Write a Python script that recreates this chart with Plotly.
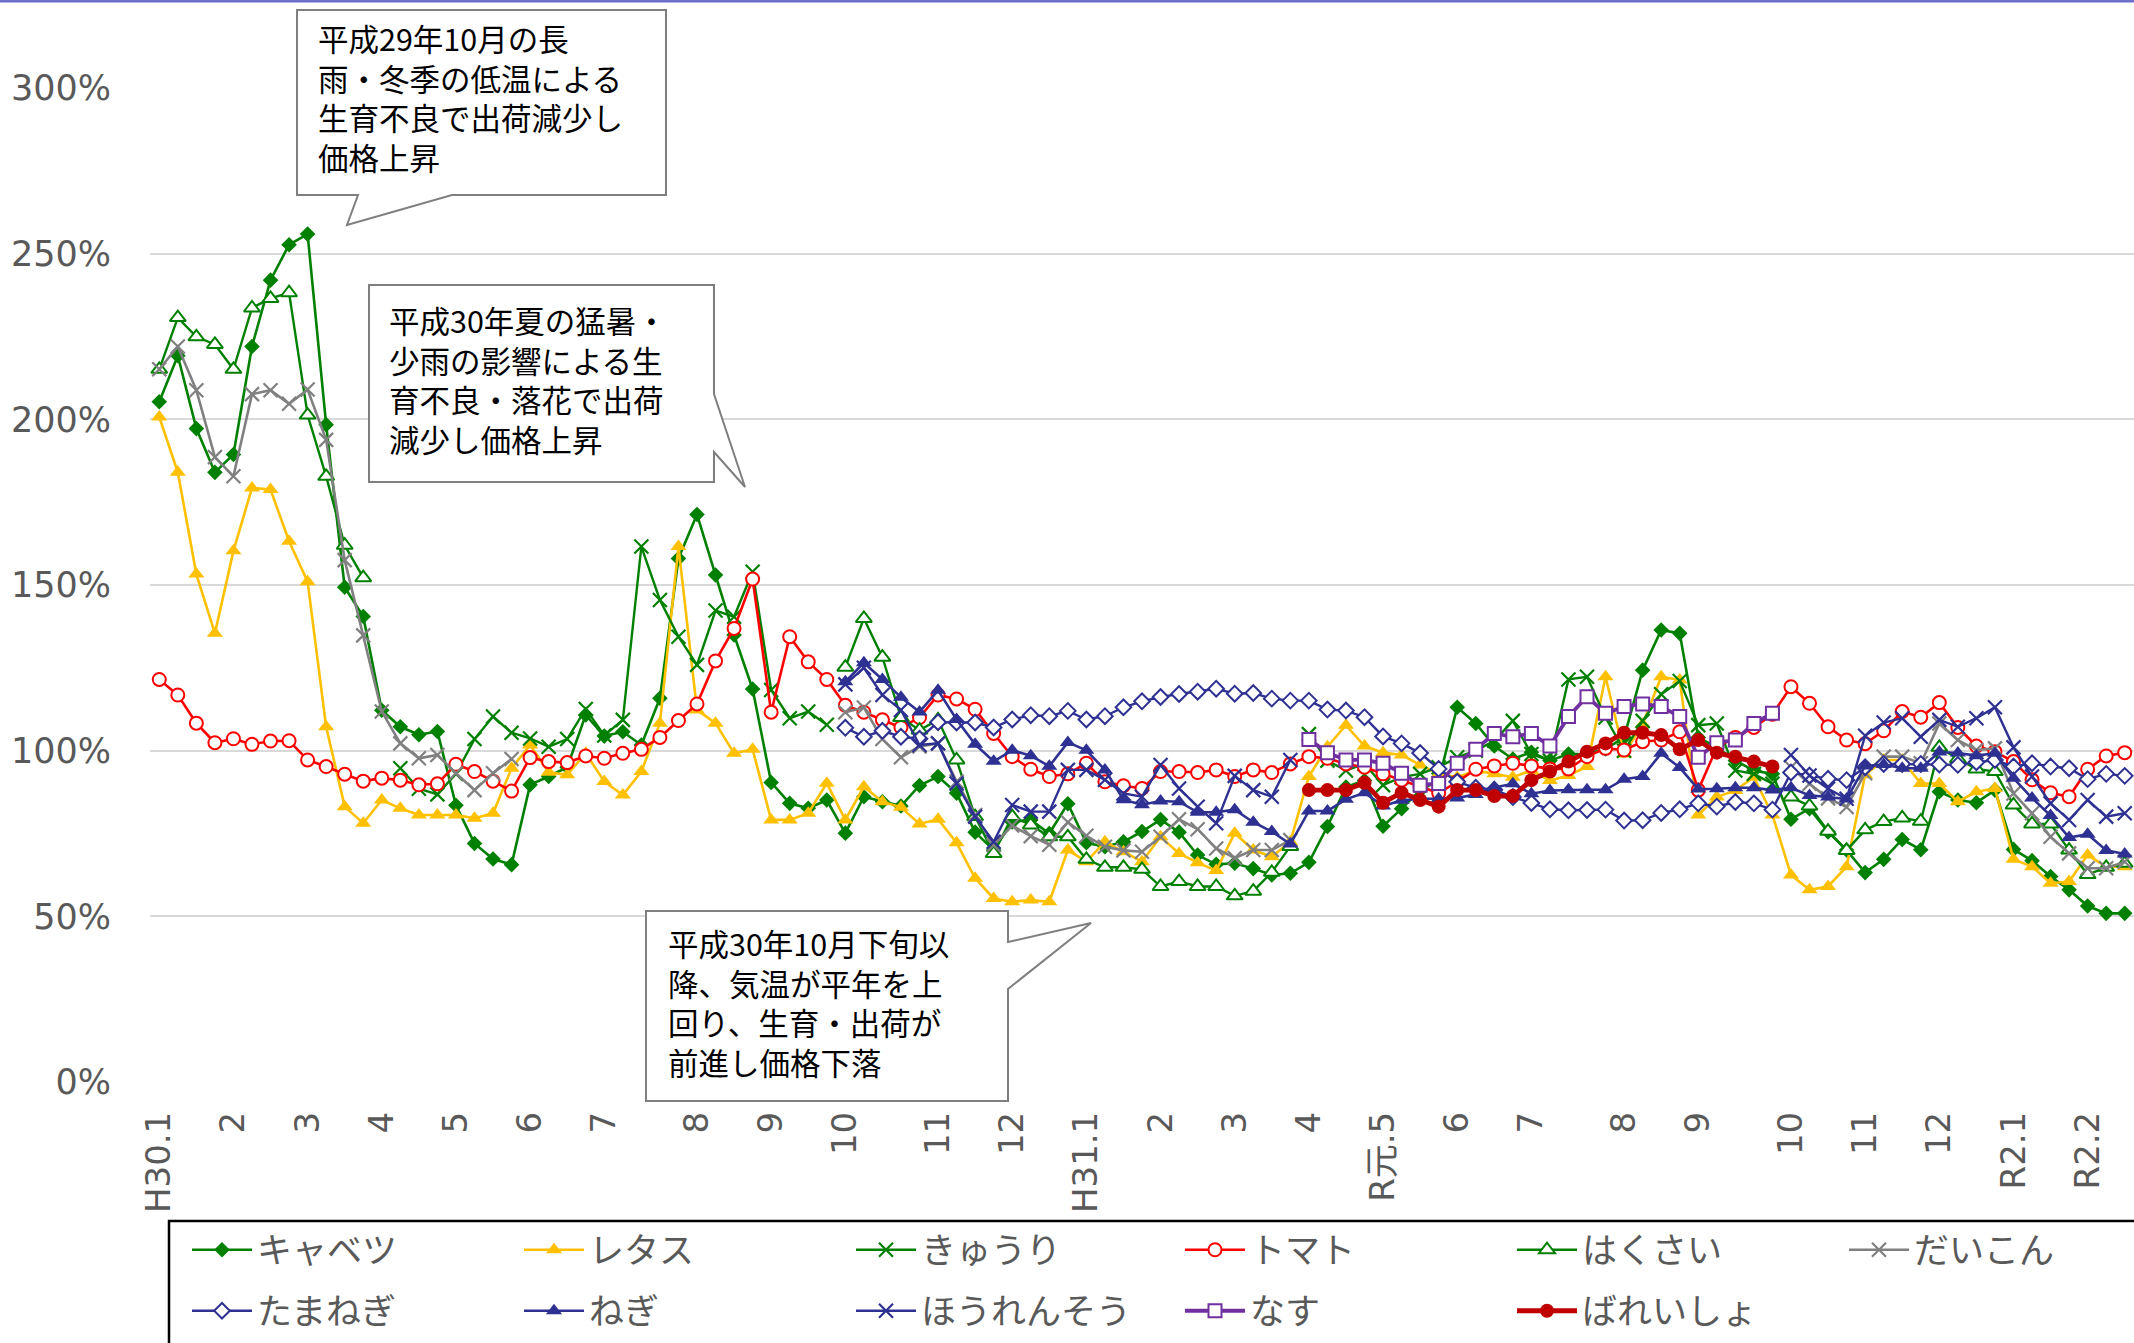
import plotly.graph_objects as go

# ---------------- data (weekly index, H30.1 = week 0) ----------------
weeks = list(range(107))

tick_weeks = [0, 4, 8, 12, 16, 20, 24, 29, 33, 37, 42, 46, 50, 54, 58, 62, 66, 70, 74, 79, 83, 88, 92, 96, 100, 104]
tick_labels = ["H30.1", "2", "3", "4", "5", "6", "7", "8", "9", "10", "11", "12",
               "H31.1", "2", "3", "4", "R元.5", "6", "7", "8", "9", "10", "11", "12", "R2.1", "R2.2"]

cabbage = [205.3, 219.2, 197.2, 184.0, 189.4, 222.0, 242.0, 252.7, 255.9, 198.4,
           149.3, 140.5, 112.2, 107.2, 104.8, 105.8, 83.5, 72.0, 67.3, 65.6,
           89.7, 92.2, 95.0, 110.8, 104.4, 105.7, 101.7, 115.8, 158.0, 171.3,
           153.0, 134.9, 118.6, 90.4, 84.1, 82.6, 85.1, 75.1, 86.1, 84.6,
           83.3, 89.5, 92.2, 87.2, 75.4, 70.0, 78.5, 79.1, 75.0, 84.0,
           72.2, 71.0, 72.5, 75.6, 79.2, 75.4, 68.5, 65.7, 66.0, 64.4,
           62.5, 63.0, 66.3, 77.1, 89.0, 91.0, 77.2, 82.5, 88.0, 91.0,
           113.1, 108.2, 101.4, 97.5, 99.5, 97.0, 99.0, 99.0, 100.5, 104.0,
           124.3, 136.4, 135.4, 104.0, 101.0, 97.0, 94.0, 93.0, 79.3, 82.5,
           75.5, 70.0, 63.2, 67.2, 73.2, 70.1, 87.6, 85.1, 84.3, 88.1,
           70.2, 66.8, 62.0, 58.0, 53.1, 50.9, 50.9]

lettuce = [200.7, 184.0, 153.3, 135.4, 160.3, 179.3, 178.8, 163.2, 151.0, 107.2,
           83.1, 78.1, 85.1, 82.6, 80.6, 80.6, 80.6, 79.6, 81.1, 94.7,
           101.7, 93.5, 92.7, 99.2, 90.7, 86.6, 93.7, 108.3, 161.6, 112.3,
           108.3, 99.2, 100.4, 79.1, 79.1, 81.1, 90.2, 79.1, 89.1, 84.6,
           82.9, 77.9, 79.3, 72.2, 61.5, 55.4, 54.4, 54.9, 54.4, 70.0,
           66.5, 72.5, 69.5, 66.5, 74.0, 69.0, 66.2, 63.8, 75.1, 70.0,
           68.0, 72.5, 92.2, 101.2, 107.7, 101.4, 99.4, 98.7, 95.7, 93.0,
           92.0, 94.0, 93.0, 92.0, 94.0, 91.0, 92.5, 95.2, 122.3, 99.0,
           108.0, 122.3, 121.3, 80.6, 86.0, 88.0, 92.0, 80.6, 62.5, 58.0,
           59.0, 65.0, 92.7, 97.2, 97.2, 90.1, 90.1, 84.6, 87.6, 88.6,
           67.2, 65.0, 60.0, 60.5, 68.5, 65.0, 65.0]

cucumber = ([None] * 13 +
            [94.7, 88.5, 86.8, 93.0, 103.5, 110.3, 105.4,
             103.7, 101.2, 103.5, 112.6, 104.6, 109.3, 161.6, 145.5, 134.4, 125.9,
             142.3, 140.4, 154.0, 118.3, 109.8, 111.8, 107.8] +
            [None] * 25 +
            [105.0, 97.0, 94.0, 96.0, 89.6, 92.0, 93.0, 95.0,
             98.0, 100.0, 103.0, 109.0, 99.0, 97.0, 121.5, 122.3, 110.0, 100.0,
             109.0, 117.0, 121.0, 107.7, 108.2, 94.0, 93.0, 90.0] +
            [None] * 19)

tomato = [121.5, 116.8, 108.3, 102.4, 103.6, 101.9, 102.9, 103.0, 97.2, 95.2,
          92.9, 90.8, 91.7, 91.1, 89.7, 90.0, 95.9, 93.7, 90.8, 87.8,
          97.9, 96.7, 96.4, 98.4, 97.7, 99.2, 100.4, 104.0, 109.1, 114.1,
          127.1, 136.9, 151.8, 111.6, 134.4, 126.8, 121.5, 113.7, 111.6, 109.3,
          107.0, 110.0, 116.8, 115.6, 112.5, 105.2, 98.2, 94.4, 92.2, 93.0,
          96.2, 90.6, 89.4, 88.6, 93.7, 93.7, 93.4, 94.2, 92.2, 94.2,
          93.4, 96.0, 98.2, 97.7, 96.0, 95.0, 93.0, 91.1, 89.1, 87.2,
          90.6, 94.4, 95.4, 96.2, 95.4, 94.5, 94.5, 98.2, 100.7, 100.2,
          102.7, 103.2, 105.7, 88.1, 101.0, 104.0, 107.0, 111.0, 119.3, 114.3,
          107.2, 103.2, 102.1, 106.0, 111.8, 110.1, 114.5, 107.0, 101.4, 99.7,
          96.7, 91.2, 87.3, 86.1, 94.4, 98.4, 99.4]

hakusai = ([215.1, 230.7, 224.9, 222.6, 215.1, 233.6, 236.5, 238.2, 201.3, 182.8, 162.0, 152.2] +
           [None] * 25 +
           [125.2, 139.9, 128.2, 110.0, 106.2, 109.3, 97.2, 80.1, 69.0, 80.1, 77.6, 74.0, 74.0,
            67.2, 64.8, 64.8, 64.2, 59.0, 60.5, 59.0, 59.0, 56.2, 57.6, 63.3, 71.1] +
           [None] * 26 +
           [86.0, 83.3, 75.7, 69.9, 76.1, 78.6, 79.7, 78.7, 101.0, 97.5, 94.5, 93.7,
            83.6, 77.9, 77.9, 70.0, 62.6, 64.8, 66.0])

daikon = ([215.1, 222.0, 208.8, 188.6, 182.8, 207.6, 208.8, 204.7, 209.0, 193.8,
           157.5, 134.8, 111.8, 102.2, 97.7, 98.7, 93.2, 88.1, 93.2, 97.5] +
          [None] * 17 +
          [111.6, 113.0, 103.5, 98.0, 101.3, 102.2, 90.7, 80.6, 71.5, 77.4, 74.2, 71.6, 78.4,
           74.3, 71.0, 69.9, 69.5, 74.0, 79.3, 76.3, 70.5, 67.6, 70.0, 70.0, 73.0] +
          [None] * 26 +
          [95.0, 90.0, 85.6, 83.0, 93.2, 98.2, 98.2, 96.2, 108.2, 103.2, 100.2, 100.7,
           87.1, 81.1, 74.0, 69.0, 64.5, 64.5, 66.5])

tamanegi = ([None] * 37 +
            [106.9, 104.2, 106.0, 104.2, 103.6, 108.6, 108.5, 108.5, 107.0, 109.4, 110.7, 110.4, 112.0,
             109.4, 110.4, 113.1, 114.9, 116.2, 117.1, 117.8, 118.7, 117.2, 117.4, 115.7, 115.1,
             115.1, 112.4, 112.1, 110.1, 104.3, 102.2, 99.3, 94.5,
             90.6, 88.8, 88.2, 86.0, 84.2, 82.3, 82.0, 82.1, 82.2, 78.9,
             79.0, 81.2, 82.3, 84.1, 83.1, 84.5, 84.1, 82.2, 93.4, 92.5,
             91.5, 91.1, 95.0, 96.0, 96.0, 96.0, 95.8, 95.7, 96.5, 97.2,
             95.2, 96.2, 95.2, 94.7, 91.4, 93.0, 92.4])

negi = ([None] * 37 +
        [120.8, 126.5, 121.5, 116.1, 111.7, 118.2, 109.4, 101.9, 96.8, 100.1, 98.5, 95.3, 102.5,
         100.1, 94.2, 85.2, 83.7, 84.8, 84.6, 81.4, 81.4, 82.2, 78.4, 75.6, 71.8,
         81.8, 81.8, 85.3, 87.3, 83.3, 85.0, 85.5, 85.5,
         85.7, 86.8, 88.9, 90.0, 87.0, 88.0, 88.2, 88.2, 88.2, 91.4,
         92.2, 99.2, 94.9, 88.4, 88.5, 88.8, 88.8, 88.1, 88.8, 86.5,
         86.0, 85.4, 95.4, 95.8, 94.7, 94.7, 99.6, 99.3, 98.5, 99.2,
         91.7, 85.7, 80.4, 73.8, 74.8, 69.9, 68.8])

hourensou = ([None] * 37 +
             [120.0, 125.0, 116.8, 112.3, 101.7, 102.2, 90.1, 80.1, 72.5, 83.6, 81.6, 81.6, 94.2,
              94.2, 91.2, 87.1, 86.1, 95.7, 88.6, 83.1, 78.1, 92.4, 88.1, 86.1, 97.2] +
             [None] * 26 +
             [98.7, 92.5, 88.5, 85.5, 104.5, 108.5, 109.8, 104.2, 109.3, 107.2, 109.8, 113.1,
              101.0, 92.2, 84.1, 79.1, 85.1, 80.1, 81.1])

nasu = ([None] * 62 +
        [103.4, 99.4, 97.2, 97.2, 96.2, 93.2, 89.6, 90.1,
         96.2, 100.4, 105.2, 104.2, 105.2, 101.4, 110.3, 116.3, 111.3, 113.3,
         114.1, 113.3, 110.3, 98.0, 102.4, 103.2, 108.2, 111.3] +
        [None] * 19)

potato = ([None] * 62 +
          [88.1, 88.1, 88.1, 90.3, 84.3, 87.3, 85.1, 83.1,
           88.1, 88.1, 86.3, 86.3, 91.1, 93.7, 96.7, 99.7, 102.2, 105.4,
           105.4, 104.7, 100.4, 103.2, 99.4, 98.2, 96.7, 95.2] +
          [None] * 19)

# ---------------- styling ----------------
GREEN = "#008000"
YELLOW = "#FFC000"
RED = "#FF0000"
GRAY = "#808080"
NAVY = "#2E3192"
PURPLE = "#7030A0"
DRED = "#C00000"

# name, values, color, symbol, style(filled/open/x), line width, marker size, legend block
series = [
    ("キャベツ", cabbage, GREEN, "diamond", "filled", 2.6, 12, "legend"),
    ("レタス", lettuce, YELLOW, "triangle-up", "filled", 2.6, 14, "legend"),
    ("きゅうり", cucumber, GREEN, "x-thin", "x", 2.4, 14, "legend"),
    ("トマト", tomato, RED, "circle", "open", 2.6, 13, "legend2"),
    ("はくさい", hakusai, GREEN, "triangle-up", "open", 2.4, 14, "legend2"),
    ("だいこん", daikon, GRAY, "x-thin", "x", 2.6, 14, "legend2"),
    ("たまねぎ", tamanegi, NAVY, "diamond", "open", 2.4, 12, "legend3"),
    ("ねぎ", negi, NAVY, "triangle-up", "filled", 2.6, 14, "legend3"),
    ("ほうれんそう", hourensou, NAVY, "x-thin", "x", 2.4, 14, "legend3"),
    ("なす", nasu, PURPLE, "square", "open", 3.8, 13, "legend4"),
    ("ばれいしょ", potato, DRED, "circle", "filled", 4.8, 14, "legend4"),
]

fig = go.Figure()
for name, vals, col, sym, style, lw, ms, lg in series:
    if style == "filled":
        marker = dict(symbol=sym, size=ms, color=col, line=dict(width=0))
    elif style == "open":
        marker = dict(symbol=sym, size=ms, color="white", line=dict(width=2, color=col))
    else:
        marker = dict(symbol=sym, size=ms, color=col, line=dict(width=2.2, color=col))
    fig.add_trace(go.Scatter(
        x=weeks, y=vals, name=name, mode="lines+markers",
        line=dict(color=col, width=lw), marker=marker,
        connectgaps=False, legend=lg,
    ))

# ---------------- layout geometry (pixels) ----------------
W, H = 2134, 1343
L, R, T, B = 150, 0, 88, 261
PW = W - L - R
PH = H - T - B


def px(x, y):
    return (x - L) / PW, (H - B - y) / PH


def path(points):
    s = ""
    for k, (x, y) in enumerate(points):
        a, b = px(x, y)
        s += ("M" if k == 0 else "L") + f"{a:.5f},{b:.5f} "
    return s + "Z"


callouts = [
    [(297, 10), (666, 10), (666, 195), (452, 195), (347, 225), (358, 195), (297, 195)],
    [(369, 285), (714, 285), (714, 394), (745, 487), (714, 452), (714, 482), (369, 482)],
    [(646, 911), (1008, 911), (1008, 942), (1091, 923), (1008, 989), (1008, 1101), (646, 1101)],
]

callout_text = [
    (316, 98, ["平成29年10月の長", "雨・冬季の低温による", "生育不良で出荷減少し", "価格上昇"]),
    (387, 379, ["平成30年夏の猛暑・", "少雨の影響による生", "育不良・落花で出荷", "減少し価格上昇"]),
    (666, 1002, ["平成30年10月下旬以", "降、気温が平年を上", "回り、生育・出荷が", "前進し価格下落"]),
]

shapes = []
for pts in callouts:
    shapes.append(dict(type="path", path=path(pts), xref="paper", yref="paper",
                       fillcolor="white", line=dict(color="#7F7F7F", width=2), layer="above"))

# legend frame
x0, y0 = px(169, 1221)
x1, y1 = px(2145, 1360)
shapes.append(dict(type="rect", xref="paper", yref="paper", x0=x0, y0=y0, x1=x1, y1=y1,
                   line=dict(color="black", width=2.5), fillcolor="rgba(0,0,0,0)", layer="above"))
# top border line
a0, b0 = px(-10, 1)
a1, _ = px(2150, 1)
shapes.append(dict(type="line", xref="paper", yref="paper", x0=a0, y0=b0, x1=a1, y1=b0,
                   line=dict(color="#6F6FCC", width=3)))

annotations = []
for xl, yc, lines in callout_text:
    a, b = px(xl, yc)
    annotations.append(dict(x=a, y=b, xref="paper", yref="paper", text="<br>".join(lines),
                            showarrow=False, xanchor="left", yanchor="middle", align="left",
                            font=dict(family="Noto Sans CJK JP", size=30.5, color="#000000")))

legend_common = dict(orientation="h", xanchor="left", yanchor="middle",
                     entrywidth=257, entrywidthmode="pixels", itemwidth=60,
                     bgcolor="rgba(0,0,0,0)", borderwidth=0, traceorder="normal",
                     font=dict(family="Noto Sans CJK JP", size=35, color="#595959"))
lxa, ly1 = px(187, 1250)
lxb, ly2 = px(187 + 3 * 331, 1311)

fig.update_layout(
    width=W, height=H,
    margin=dict(l=L, r=R, t=T, b=B, autoexpand=False),
    paper_bgcolor="white", plot_bgcolor="white",
    font=dict(family="DejaVu Sans, Noto Sans CJK JP", color="#595959"),
    showlegend=True,
    legend=dict(x=lxa, y=ly1, **legend_common),
    legend2=dict(x=lxb, y=ly1, **legend_common),
    legend3=dict(x=lxa, y=ly2, **legend_common),
    legend4=dict(x=lxb, y=ly2, **legend_common),
    shapes=shapes,
    annotations=annotations,
    xaxis=dict(range=[-0.5, 106.5], tickmode="array", tickvals=tick_weeks, ticktext=tick_labels,
               tickangle=-90, tickfont=dict(size=34, color="#595959", family="DejaVu Sans, Noto Sans CJK JP"),
               showgrid=False, zeroline=False, showline=False, ticks="", ticklabelstandoff=22),
    yaxis=dict(range=[0, 300], tickmode="array", tickvals=[0, 50, 100, 150, 200, 250, 300],
               ticktext=["0%", "50%", "100%", "150%", "200%", "250%", "300%"],
               tickfont=dict(size=35, color="#595959", family="DejaVu Sans, Noto Sans CJK JP"),
               gridcolor="#D9D9D9", gridwidth=2, zeroline=False, showline=False, ticks="",
               ticklabelstandoff=38),
)

fig.write_html("out.html", config={"displayModeBar": False},
               post_script="document.body.style.margin='0px';document.body.style.overflow='hidden';")
